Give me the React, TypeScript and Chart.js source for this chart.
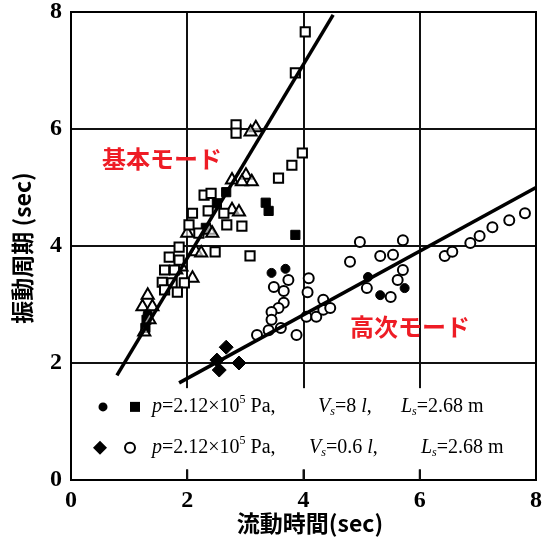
import React, { useEffect, useRef } from "react";
import { Chart, registerables } from "chart.js";

Chart.register(...registerables);

// ---- data ----
const xTicks = [0, 2, 4, 6, 8];
const yTicks = [0, 2, 4, 6, 8];

const openSquareX = [4.03, 3.86, 2.84, 2.84, 3.98, 3.8, 3.57, 2.94, 3.08, 2.29, 2.41, 2.09, 2.36, 2.63, 2.68, 2.03, 2.2, 1.86, 2.48, 1.69, 1.86, 1.61, 1.78, 1.57, 1.74, 1.95, 1.61, 1.83];
const openSquareY = [7.66, 6.96, 6.07, 5.93, 5.59, 5.38, 5.16, 4.34, 3.83, 4.87, 4.9, 4.56, 4.6, 4.56, 4.36, 4.36, 4.22, 3.98, 3.9, 3.81, 3.76, 3.59, 3.59, 3.38, 3.37, 3.37, 3.25, 3.21];

const openTriangleX = [3.18, 3.09, 3.01, 2.77, 3.11, 2.94, 2.77, 2.89, 2.38, 2.0, 2.43, 2.15, 2.24, 1.9, 1.81, 2.09, 1.32, 1.23, 1.4, 1.35, 1.26];
const openTriangleY = [6.02, 5.95, 5.21, 5.13, 5.1, 5.1, 4.62, 4.58, 4.27, 4.22, 4.22, 3.9, 3.88, 3.64, 3.59, 3.45, 3.16, 2.96, 2.96, 2.74, 2.53];

const filledSquareX = [3.35, 3.4, 3.86, 2.67, 2.51, 2.32, 1.3, 1.28];
const filledSquareY = [4.74, 4.6, 4.19, 4.92, 4.73, 4.31, 2.74, 2.6];

const filledCircleX = [3.45, 3.69, 5.11, 5.32, 5.74, 1.32];
const filledCircleY = [3.54, 3.61, 3.47, 3.16, 3.28, 2.85];

const filledDiamondX = [2.67, 2.51, 2.89, 2.55];
const filledDiamondY = [2.27, 2.05, 2.0, 1.88];

const openCircleX = [3.74, 3.49, 3.66, 4.09, 4.07, 3.66, 3.57, 3.45, 3.45, 3.61, 3.4, 3.2, 3.88, 4.05, 4.22, 4.34, 4.34, 4.46, 4.97, 4.8, 5.71, 5.32, 5.54, 5.71, 5.62, 5.09, 5.5, 6.43, 6.56, 6.87, 7.03, 7.25, 7.54, 7.81];
const openCircleY = [3.42, 3.3, 3.23, 3.45, 3.21, 3.03, 2.94, 2.87, 2.74, 2.6, 2.56, 2.48, 2.48, 2.79, 2.79, 2.91, 3.08, 2.94, 4.07, 3.73, 4.1, 3.83, 3.85, 3.59, 3.42, 3.28, 3.13, 3.83, 3.9, 4.05, 4.17, 4.32, 4.44, 4.56];

const fundamentalLineX = [0.79, 4.51];
const fundamentalLineY = [1.79, 7.95];
const higherLineX = [1.86, 8.0];
const higherLineY = [1.66, 5.0];

const fundamentalLabel = "基本モード";
const higherLabel = "高次モード";
const xTitle = "流動時間(sec)";
const yTitle = "振動周期 (sec)";

const pts = (xs: number[], ys: number[]) => xs.map((x, i) => ({ x, y: ys[i] }));

type Seg = [string, string, number];

const overlayPlugin = {
  id: "overlay",
  afterDatasetsDraw(chart: any) {
    const { ctx, scales, chartArea } = chart;
    const xs = scales.x;
    const ys = scales.y;
    ctx.save();
    // legend box (white background inside plot)
    const lx0 = xs.getPixelForValue(0) + 3;
    const lx1 = xs.getPixelForValue(8) - 3;
    const ly0 = ys.getPixelForValue(1.57);
    const ly1 = ys.getPixelForValue(0.18);
    ctx.fillStyle = "#ffffff";
    ctx.fillRect(lx0, ly0, lx1 - lx0, ly1 - ly0);

    // frame
    ctx.strokeStyle = "#000";
    ctx.lineWidth = 2;
    ctx.strokeRect(chartArea.left, chartArea.top, chartArea.right - chartArea.left, chartArea.bottom - chartArea.top);

    const row1 = ys.getPixelForValue(1.25);
    const row2 = ys.getPixelForValue(0.55);
    ctx.fillStyle = "#000";
    // row 1 markers
    ctx.beginPath();
    ctx.arc(103, row1, 4.5, 0, Math.PI * 2);
    ctx.fill();
    ctx.fillRect(130, row1 - 5, 10, 10);
    // row 2 markers
    ctx.beginPath();
    ctx.moveTo(100, row2 - 7);
    ctx.lineTo(107, row2);
    ctx.lineTo(100, row2 + 7);
    ctx.lineTo(93, row2);
    ctx.closePath();
    ctx.fill();
    ctx.beginPath();
    ctx.arc(130, row2, 5, 0, Math.PI * 2);
    ctx.stroke();

    ctx.textBaseline = "middle";
    ctx.textAlign = "left";
    const it = "italic 20px 'Liberation Serif'";
    const rg = "20px 'Liberation Serif'";
    const sub = "italic 12px 'Liberation Serif'";
    const sup = "12px 'Liberation Serif'";
    const chain = (x: number, y: number, segs: Seg[]) => {
      let cx = x;
      for (const [font, txt, dy] of segs) {
        ctx.font = font;
        ctx.fillText(txt, cx, y + dy);
        cx += ctx.measureText(txt).width;
      }
    };
    chain(152, row1, [[it, "p", 0], [rg, "=2.12×10", 0], [sup, "5", -7], [rg, " Pa,", 0]]);
    chain(318, row1, [[it, "V", 0], [sub, "s", 5], [rg, "=8 ", 0], [it, "l", 0], [rg, ",", 0]]);
    chain(401, row1, [[it, "L", 0], [sub, "s", 5], [rg, "=2.68 m", 0]]);
    chain(152, row2, [[it, "p", 0], [rg, "=2.12×10", 0], [sup, "5", -7], [rg, " Pa,", 0]]);
    chain(309, row2, [[it, "V", 0], [sub, "s", 5], [rg, "=0.6 ", 0], [it, "l", 0], [rg, ",", 0]]);
    chain(421, row2, [[it, "L", 0], [sub, "s", 5], [rg, "=2.68 m", 0]]);

    // short tick stubs at bottom
    ctx.strokeStyle = "#111";
    ctx.lineWidth = 2;
    for (const v of [2, 4, 6]) {
      const px = xs.getPixelForValue(v);
      ctx.beginPath();
      ctx.moveTo(px, ys.getPixelForValue(0.18));
      ctx.lineTo(px, ys.getPixelForValue(0));
      ctx.stroke();
    }

    // red mode labels
    ctx.fillStyle = "#ee1c25";
    ctx.font = "bold 24px 'Noto Sans CJK JP'";
    ctx.textAlign = "left";
    ctx.fillText(fundamentalLabel, 102, ys.getPixelForValue(5.49));
    ctx.fillText(higherLabel, 350, ys.getPixelForValue(2.62));

    // axis titles
    ctx.fillStyle = "#000";
    ctx.font = "bold 23px 'Noto Sans CJK JP'";
    ctx.textAlign = "center";
    ctx.fillText(xTitle, 310, 523);
    ctx.save();
    ctx.translate(22, 248);
    ctx.rotate(-Math.PI / 2);
    ctx.fillText(yTitle, 0, 0);
    ctx.restore();
    ctx.restore();
  },
};

export default function App() {
  const ref = useRef<HTMLCanvasElement | null>(null);
  useEffect(() => {
    if (!ref.current) return;
    const tickFont = { family: "'Liberation Serif'", size: 24, weight: "bold" as const };
    const chart = new Chart(ref.current, {
      type: "scatter",
      data: {
        datasets: [
          {
            label: "fundamental",
            data: pts(fundamentalLineX, fundamentalLineY),
            showLine: true,
            borderColor: "#000",
            borderWidth: 3.5,
            pointRadius: 0,
          },
          {
            label: "higher",
            data: pts(higherLineX, higherLineY),
            showLine: true,
            borderColor: "#000",
            borderWidth: 3.5,
            pointRadius: 0,
          },
          {
            label: "open square",
            data: pts(openSquareX, openSquareY),
            pointStyle: "rect",
            pointRadius: 6.5,
            backgroundColor: "#fff",
            borderColor: "#000",
            borderWidth: 2,
          },
          {
            label: "open triangle",
            data: pts(openTriangleX, openTriangleY),
            pointStyle: "triangle",
            pointRadius: 7,
            backgroundColor: "rgba(255,255,255,0.6)",
            borderColor: "#000",
            borderWidth: 2,
          },
          {
            label: "open circle",
            data: pts(openCircleX, openCircleY),
            pointStyle: "circle",
            pointRadius: 5,
            backgroundColor: "#fff",
            borderColor: "#000",
            borderWidth: 2,
          },
          {
            label: "filled square",
            data: pts(filledSquareX, filledSquareY),
            pointStyle: "rect",
            pointRadius: 6.5,
            backgroundColor: "#000",
            borderColor: "#000",
            borderWidth: 1,
          },
          {
            label: "filled circle",
            data: pts(filledCircleX, filledCircleY),
            pointStyle: "circle",
            pointRadius: 4.5,
            backgroundColor: "#000",
            borderColor: "#000",
            borderWidth: 1,
          },
          {
            label: "filled diamond",
            data: pts(filledDiamondX, filledDiamondY),
            pointStyle: "rectRot",
            pointRadius: 7,
            backgroundColor: "#000",
            borderColor: "#000",
            borderWidth: 1,
          },
        ],
      },
      options: {
        animation: false,
        responsive: false,
        layout: { padding: 0 },
        plugins: { legend: { display: false }, tooltip: { enabled: false } },
        scales: {
          x: {
            type: "linear",
            min: 0,
            max: 8,
            afterFit: (s: any) => {
              s.height = 64;
              s.paddingLeft = 0;
              s.paddingRight = 8;
            },
            afterBuildTicks: (s: any) => { s.ticks = xTicks.map((v) => ({ value: v })); },
            ticks: { color: "#000", font: tickFont, padding: 6 },
            grid: { color: "#111", lineWidth: 2, drawTicks: false },
            border: { display: true, color: "#000", width: 2 },
          },
          y: {
            type: "linear",
            min: 0,
            max: 8,
            afterFit: (s: any) => {
              s.width = 71;
              s.paddingTop = 12;
              s.paddingBottom = 0;
            },
            afterBuildTicks: (s: any) => { s.ticks = yTicks.map((v) => ({ value: v })); },
            ticks: { color: "#000", font: tickFont, padding: 9 },
            grid: { color: "#111", lineWidth: 2, drawTicks: false },
            border: { display: true, color: "#000", width: 2 },
          },
        },
      },
      plugins: [overlayPlugin],
    });
    return () => chart.destroy();
  }, []);
  return (
    <div style={{ position: "fixed", left: 0, top: 0, width: 545, height: 544, background: "#fff" }}>
      <canvas ref={ref} width={545} height={544} style={{ width: 545, height: 544, display: "block" }} />
    </div>
  );
}
